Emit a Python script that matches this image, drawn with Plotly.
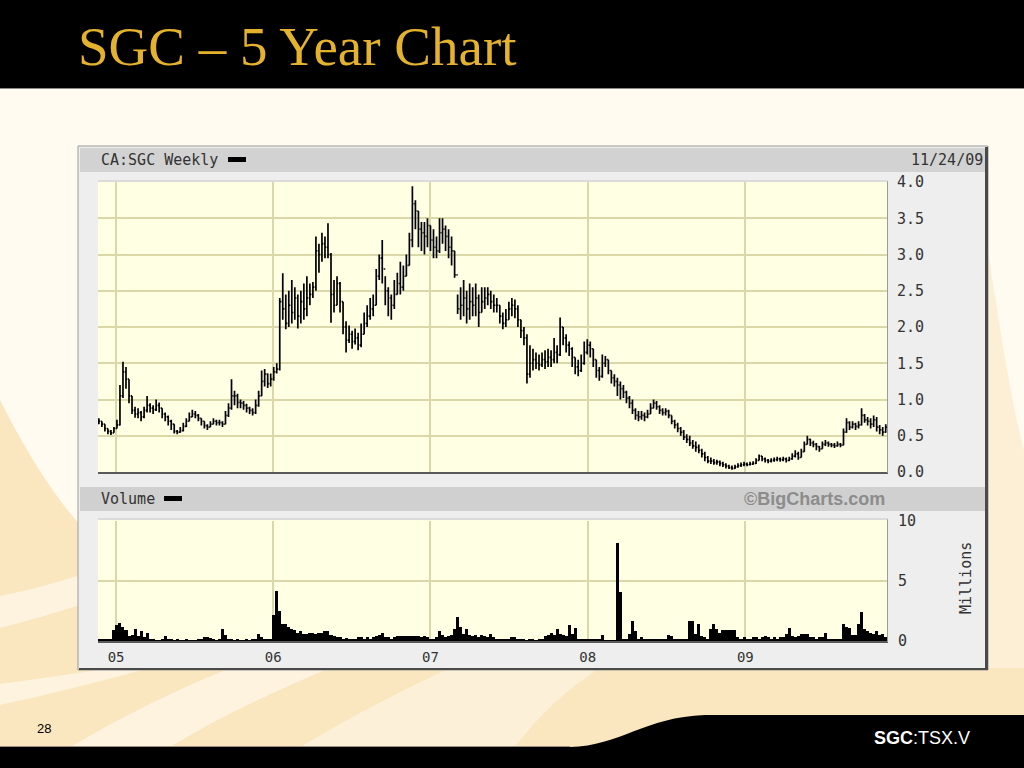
import plotly.graph_objects as go
import pandas as pd

W, H = 1024, 768

# ---------------- data ----------------
FIRST_WEEK = "2004-11-22"

week_high = [
    0.74, 0.70, 0.66, 0.60, 0.58, 0.62, 0.72, 1.20, 1.52, 1.45,
    1.28, 1.05, 0.90, 0.88, 0.84, 0.90, 1.05, 0.95, 0.92, 1.00,
    0.96, 0.88, 0.82, 0.78, 0.72, 0.66, 0.58, 0.62, 0.68, 0.74,
    0.82, 0.86, 0.84, 0.80, 0.74, 0.70, 0.66, 0.70, 0.74, 0.72,
    0.72, 0.70, 0.84, 0.95, 1.28, 1.12, 1.08, 1.00, 0.98, 0.94,
    0.90, 0.88, 1.00, 1.12, 1.40, 1.42, 1.36, 1.36, 1.45, 1.50,
    2.40, 2.74, 2.45, 2.50, 2.65, 2.55, 2.45, 2.50, 2.60, 2.70,
    2.60, 2.62, 3.25, 3.15, 3.30, 3.25, 3.43, 3.02, 2.65, 2.70,
    2.62, 2.35, 2.08, 2.02, 1.95, 1.98, 1.92, 2.05, 2.20, 2.30,
    2.40, 2.45, 2.80, 3.00, 3.20, 2.70, 2.55, 2.45, 2.65, 2.75,
    2.90, 2.85, 3.00, 3.30, 3.94, 3.75, 3.60, 3.45, 3.45, 3.50,
    3.40, 3.35, 3.25, 3.50, 3.50, 3.40, 3.35, 3.25, 3.05, 2.45,
    2.55, 2.65, 2.50, 2.60, 2.55, 2.60, 2.45, 2.55, 2.55, 2.55,
    2.50, 2.45, 2.40, 2.30, 2.20, 2.25, 2.35, 2.40, 2.38, 2.30,
    2.10, 2.00, 1.90, 1.75, 1.70, 1.65, 1.62, 1.65, 1.68, 1.70,
    1.68, 1.85, 1.75, 2.13, 2.00, 1.90, 1.80, 1.72, 1.58, 1.55,
    1.62, 1.80, 1.83, 1.80, 1.70, 1.55, 1.45, 1.62, 1.60, 1.55,
    1.40, 1.35, 1.30, 1.25, 1.20, 1.12, 1.05, 1.00, 0.88, 0.84,
    0.84, 0.82, 0.86, 0.95, 1.00, 0.98, 0.92, 0.88, 0.88, 0.86,
    0.78, 0.72, 0.68, 0.62, 0.58, 0.52, 0.50, 0.44, 0.42, 0.38,
    0.32, 0.28, 0.22, 0.20, 0.18, 0.17, 0.16, 0.14, 0.12, 0.10,
    0.09, 0.10, 0.12, 0.13, 0.14, 0.13, 0.14, 0.15, 0.19, 0.24,
    0.22, 0.20, 0.18, 0.19, 0.20, 0.21, 0.20, 0.21, 0.20, 0.21,
    0.26, 0.30, 0.28, 0.32, 0.42, 0.50, 0.46, 0.43, 0.40, 0.36,
    0.42, 0.44, 0.42, 0.40, 0.40, 0.42, 0.40, 0.60, 0.74, 0.70,
    0.70, 0.68, 0.70, 0.88, 0.80, 0.76, 0.74, 0.78, 0.76, 0.65,
    0.62, 0.66,
]

week_low = [
    0.66, 0.62, 0.56, 0.52, 0.51, 0.54, 0.60, 0.64, 1.02, 1.15,
    0.95, 0.80, 0.75, 0.74, 0.70, 0.74, 0.82, 0.82, 0.80, 0.84,
    0.82, 0.74, 0.70, 0.64, 0.58, 0.53, 0.52, 0.54, 0.56, 0.62,
    0.70, 0.76, 0.74, 0.70, 0.64, 0.60, 0.58, 0.62, 0.66, 0.64,
    0.64, 0.62, 0.66, 0.76, 0.86, 0.92, 0.88, 0.88, 0.86, 0.82,
    0.80, 0.78, 0.80, 0.90, 1.05, 1.18, 1.16, 1.18, 1.26, 1.36,
    1.40, 2.10, 1.97, 2.00, 2.05, 2.10, 1.98, 2.05, 2.10, 2.15,
    2.30, 2.40, 2.50, 2.75, 2.90, 2.95, 2.95, 2.06, 2.20, 2.30,
    2.20, 1.90, 1.65, 1.78, 1.70, 1.76, 1.68, 1.72, 1.90, 2.00,
    2.10, 2.15, 2.30, 2.65, 2.60, 2.30, 2.15, 2.10, 2.25, 2.45,
    2.45, 2.50, 2.70, 2.85, 3.10, 3.35, 3.10, 3.05, 3.00, 3.10,
    3.05, 2.95, 2.95, 3.02, 3.15, 3.05, 2.95, 2.85, 2.68, 2.18,
    2.10, 2.15, 2.05, 2.10, 2.15, 2.15, 2.00, 2.20, 2.25, 2.30,
    2.25, 2.20, 2.20, 2.05, 1.97, 2.00, 2.10, 2.15, 2.12, 2.00,
    1.85, 1.75, 1.22, 1.30, 1.40, 1.42, 1.40, 1.45, 1.42, 1.45,
    1.45, 1.50, 1.50, 1.60, 1.75, 1.65, 1.60, 1.45, 1.35, 1.32,
    1.38, 1.48, 1.62, 1.58, 1.45, 1.30, 1.26, 1.30, 1.45, 1.35,
    1.22, 1.18, 1.05, 1.00, 1.02, 0.95, 0.88, 0.80, 0.72, 0.70,
    0.72, 0.70, 0.74, 0.80, 0.88, 0.86, 0.80, 0.78, 0.78, 0.74,
    0.66, 0.60, 0.55, 0.50, 0.44, 0.40, 0.36, 0.32, 0.28, 0.26,
    0.20, 0.15, 0.12, 0.11, 0.10, 0.10, 0.08, 0.07, 0.05, 0.04,
    0.03, 0.04, 0.06, 0.07, 0.08, 0.08, 0.09, 0.10, 0.11, 0.16,
    0.15, 0.13, 0.12, 0.13, 0.14, 0.15, 0.14, 0.15, 0.13, 0.15,
    0.17, 0.20, 0.17, 0.20, 0.28, 0.38, 0.36, 0.34, 0.30, 0.28,
    0.32, 0.36, 0.35, 0.34, 0.33, 0.35, 0.34, 0.37, 0.54, 0.58,
    0.60, 0.58, 0.60, 0.64, 0.68, 0.64, 0.60, 0.62, 0.56, 0.52,
    0.50, 0.54,
]

week_close = [
    0.70, 0.66, 0.60, 0.56, 0.54, 0.60, 0.65, 1.05, 1.38, 1.28,
    1.05, 0.85, 0.80, 0.82, 0.76, 0.85, 0.92, 0.88, 0.86, 0.92,
    0.88, 0.80, 0.76, 0.70, 0.66, 0.56, 0.55, 0.57, 0.63, 0.70,
    0.76, 0.80, 0.78, 0.74, 0.70, 0.64, 0.62, 0.66, 0.70, 0.68,
    0.68, 0.66, 0.78, 0.88, 1.05, 1.05, 0.96, 0.95, 0.92, 0.88,
    0.85, 0.82, 0.92, 1.05, 1.25, 1.35, 1.22, 1.28, 1.38, 1.42,
    2.35, 2.25, 2.05, 2.30, 2.20, 2.40, 2.15, 2.35, 2.25, 2.40,
    2.45, 2.55, 3.05, 3.00, 3.15, 3.10, 3.00, 2.45, 2.30, 2.60,
    2.35, 2.00, 1.82, 1.90, 1.80, 1.85, 1.75, 1.90, 2.05, 2.15,
    2.25, 2.30, 2.70, 2.95, 2.80, 2.50, 2.40, 2.30, 2.45, 2.60,
    2.55, 2.70, 2.85, 3.20, 3.70, 3.60, 3.35, 3.30, 3.25, 3.40,
    3.20, 3.10, 3.05, 3.30, 3.35, 3.25, 3.10, 3.05, 2.72, 2.25,
    2.30, 2.40, 2.25, 2.35, 2.30, 2.40, 2.20, 2.35, 2.40, 2.45,
    2.35, 2.30, 2.30, 2.15, 2.05, 2.10, 2.25, 2.30, 2.25, 2.10,
    1.95, 1.85, 1.35, 1.50, 1.55, 1.50, 1.48, 1.55, 1.52, 1.58,
    1.55, 1.65, 1.62, 2.00, 1.85, 1.75, 1.70, 1.58, 1.45, 1.40,
    1.50, 1.65, 1.75, 1.70, 1.55, 1.40, 1.32, 1.50, 1.55, 1.40,
    1.30, 1.25, 1.20, 1.15, 1.10, 1.02, 0.95, 0.85, 0.78, 0.76,
    0.78, 0.76, 0.80, 0.88, 0.95, 0.90, 0.85, 0.82, 0.84, 0.78,
    0.70, 0.65, 0.60, 0.55, 0.48, 0.45, 0.40, 0.36, 0.34, 0.30,
    0.25, 0.20, 0.15, 0.15, 0.13, 0.14, 0.12, 0.10, 0.08, 0.06,
    0.05, 0.07, 0.09, 0.10, 0.11, 0.10, 0.11, 0.12, 0.16, 0.22,
    0.18, 0.16, 0.15, 0.16, 0.17, 0.18, 0.17, 0.18, 0.16, 0.18,
    0.22, 0.25, 0.20, 0.28, 0.38, 0.45, 0.40, 0.38, 0.35, 0.32,
    0.38, 0.40, 0.38, 0.37, 0.36, 0.38, 0.37, 0.55, 0.68, 0.62,
    0.66, 0.63, 0.65, 0.78, 0.72, 0.70, 0.66, 0.72, 0.62, 0.58,
    0.55, 0.62,
]

week_volume_m = [
    0.15, 0.10, 0.15, 0.10, 0.20, 0.90, 1.30, 1.50, 1.20, 0.90,
    0.40, 0.50, 1.00, 0.40, 0.80, 0.30, 0.70, 0.20, 0.10, 0.05,
    0.05, 0.10, 0.40, 0.15, 0.10, 0.05, 0.20, 0.05, 0.05, 0.10,
    0.05, 0.05, 0.05, 0.10, 0.10, 0.30, 0.30, 0.25, 0.10, 0.05,
    0.10, 1.00, 0.50, 0.20, 0.10, 0.05, 0.10, 0.05, 0.05, 0.10,
    0.05, 0.10, 0.10, 0.55, 0.30, 0.10, 0.10, 0.20, 2.20, 4.20,
    2.50, 1.40, 1.40, 1.20, 1.00, 0.90, 0.70, 0.80, 0.60, 0.55,
    0.70, 0.70, 0.60, 0.70, 0.70, 0.80, 0.80, 0.50, 0.40, 0.30,
    0.30, 0.20, 0.25, 0.20, 0.20, 0.20, 0.30, 0.30, 0.20, 0.30,
    0.20, 0.30, 0.40, 0.50, 0.70, 0.30, 0.30, 0.20, 0.30, 0.40,
    0.40, 0.40, 0.45, 0.40, 0.40, 0.40, 0.40, 0.35, 0.40, 0.30,
    0.20, 0.20, 0.30, 0.80, 0.50, 0.30, 0.40, 0.50, 1.00, 2.00,
    1.20, 0.60, 1.00, 0.50, 0.40, 0.50, 0.30, 0.50, 0.40, 0.30,
    0.55, 0.30, 0.20, 0.15, 0.20, 0.15, 0.20, 0.30, 0.30, 0.20,
    0.10, 0.10, 0.05, 0.10, 0.10, 0.05, 0.10, 0.10, 0.40, 0.50,
    0.70, 0.50, 1.00, 0.60, 0.50, 0.40, 1.30, 0.60, 1.10, 0.20,
    0.10, 0.15, 0.10, 0.10, 0.10, 0.10, 0.10, 0.50, 0.05, 0.05,
    0.05, 0.05, 8.20, 4.10, 0.10, 0.10, 0.55, 1.70, 0.80, 0.20,
    0.30, 0.10, 0.15, 0.10, 0.10, 0.15, 0.10, 0.10, 0.15, 0.50,
    0.40, 0.10, 0.15, 0.10, 0.10, 0.15, 1.70, 1.70, 0.60, 1.45,
    0.40, 0.30, 0.20, 1.00, 1.45, 1.00, 0.70, 0.90, 0.90, 0.90,
    0.90, 0.90, 0.30, 0.20, 0.30, 0.20, 0.20, 0.30, 0.30, 0.20,
    0.30, 0.40, 0.30, 0.20, 0.30, 0.20, 0.30, 0.30, 0.55, 1.10,
    0.40, 0.30, 0.40, 0.60, 0.60, 0.60, 0.30, 0.30, 0.20, 0.30,
    0.30, 0.70, 0.20, 0.20, 0.10, 0.20, 0.20, 1.40, 1.20, 1.10,
    0.50, 0.50, 1.40, 2.40, 1.00, 0.80, 0.70, 0.60, 0.80, 0.50,
    0.60, 0.30,
]

year_tick_dates = ["2005-01-01", "2006-01-01", "2007-01-01", "2008-01-01", "2009-01-01"]
year_tick_labels = ["05", "06", "07", "08", "09"]
price_ticks = [0.0, 0.5, 1.0, 1.5, 2.0, 2.5, 3.0, 3.5, 4.0]
volume_ticks = [0, 5, 10]
x_range = ["2004-11-20", "2009-11-26"]

n = len(week_close)
assert len(week_high) == n and len(week_low) == n and len(week_volume_m) == n
weeks = pd.date_range(FIRST_WEEK, periods=n, freq="7D")
week_open = [week_close[0]] + week_close[:-1]

# ---------------- helpers (pixel -> paper) ----------------
def px(x):
    return x / W

def py(y):
    return 1 - y / H

def rect(x0, y0, x1, y1, fill, line=None, lw=0, layer="below"):
    d = dict(type="rect", xref="paper", yref="paper",
             x0=px(x0), x1=px(x1), y0=py(y1), y1=py(y0),
             fillcolor=fill, layer=layer, line=dict(width=lw))
    if line:
        d["line"]["color"] = line
    return d

def hline(x0, x1, y, color, w, layer="above"):
    return dict(type="line", xref="paper", yref="paper", x0=px(x0), x1=px(x1),
                y0=py(y), y1=py(y), line=dict(color=color, width=w), layer=layer)

def vline(x, y0, y1, color, w, layer="above"):
    return dict(type="line", xref="paper", yref="paper", x0=px(x), x1=px(x),
                y0=py(y0), y1=py(y1), line=dict(color=color, width=w), layer=layer)

def path(cmds, fill, layer="below"):
    # each command carries exactly the points it needs (one segment per command)
    s = []
    for c, pts in cmds:
        s.append(c + " " + " ".join(f"{px(a):.5f},{py(b):.5f}" for a, b in pts))
    return dict(type="path", xref="paper", yref="paper", path=" ".join(s) + " Z",
                fillcolor=fill, line=dict(width=0), layer=layer)

# ---------------- traces ----------------
fig = go.Figure()
fig.add_trace(go.Ohlc(
    x=weeks, open=week_open, high=week_high, low=week_low, close=week_close,
    xaxis="x", yaxis="y",
    increasing=dict(line=dict(color="#000000", width=1.7)),
    decreasing=dict(line=dict(color="#000000", width=1.7)),
    tickwidth=0.4, hoverinfo="skip", showlegend=False,
))
fig.add_trace(go.Bar(
    x=weeks, y=week_volume_m, xaxis="x2", yaxis="y2",
    marker=dict(color="#000000", line=dict(width=0)),
    hoverinfo="skip", showlegend=False,
))

GRID = "#DAD8A8"
MONO = "DejaVu Sans Mono"
PLOT_X = [px(98), px(887)]
TAN = "#FAE6BF"
LIGHT = "#FDF3DE"

shapes = []
# slide background decoration (soft tan swooshes)
shapes.append(path([("M", [(0, 400)]), ("Q", [(40, 480), (80, 525)]), ("L", [(80, 747)]),
                    ("L", [(0, 747)])], TAN))
shapes.append(rect(0, 668, 1024, 747, TAN))
shapes.append(path([("M", [(0, 596)]), ("Q", [(40, 588), (80, 575)]), ("L", [(80, 605)]),
                    ("Q", [(40, 618), (0, 628)])], LIGHT))
shapes.append(path([("M", [(0, 684)]), ("Q", [(60, 676), (110, 668)]), ("L", [(150, 668)]),
                    ("Q", [(70, 690), (0, 705)])], LIGHT))
shapes.append(path([("M", [(70, 747)]), ("Q", [(150, 700), (230, 668)]), ("L", [(330, 668)]),
                    ("Q", [(230, 710), (170, 747)])], LIGHT))
shapes.append(path([("M", [(300, 747)]), ("Q", [(380, 700), (450, 668)]), ("L", [(600, 668)]),
                    ("Q", [(550, 700), (515, 747)])], "#FCF0D9"))
shapes.append(path([("M", [(988, 250)]), ("Q", [(1010, 400), (1024, 450)]), ("L", [(1024, 668)]),
                    ("L", [(988, 668)])], "#FCEFD6"))
# header / footer bands
shapes.append(rect(0, 0, 1024, 88, "#000000"))
shapes.append(hline(0, 1024, 88.5, "#8A8A8A", 1, layer="below"))
shapes.append(path([("M", [(0, 747)]), ("L", [(570, 747)]),
                    ("C", [(620, 746), (645, 717), (705, 715)]),
                    ("L", [(1024, 715)]), ("L", [(1024, 768)]), ("L", [(0, 768)])], "#000000"))
shapes.append(hline(0, 570, 746.5, "#9A8F80", 1, layer="below"))
# chart panel
shapes.append(rect(78, 146, 988, 670, "#EEEEEE", "#9A9A9A", 1))
shapes.append(rect(80, 148, 985, 172, "#D2D2D2"))
shapes.append(rect(80, 487, 985, 511, "#D0D0D0"))
shapes.append(rect(98, 182, 887, 472, "#FFFFE4"))
shapes.append(rect(98, 520, 887, 642, "#FFFFE4"))
# panel shadow edges
shapes.append(vline(986.5, 147, 670, "#4A4A4A", 3))
shapes.append(hline(79, 988, 669, "#4A4A4A", 2))
# plot frames
shapes.append(hline(98, 888, 473, "#5A5A5A", 2))
shapes.append(vline(887.5, 181, 473, "#9A9A9A", 1))
shapes.append(hline(98, 888, 181, "#C8C8C8", 1))
shapes.append(hline(98, 888, 642, "#5A5A5A", 2))
shapes.append(vline(887.5, 519, 642, "#9A9A9A", 1))
shapes.append(hline(98, 888, 519, "#C8C8C8", 1))
# legend swatches
shapes.append(rect(228, 157, 246, 162, "#000000", layer="above"))
shapes.append(rect(164, 496, 182, 501, "#000000", layer="above"))

ann = []
def text(x, y, t, size, color, family, xanchor="left", angle=0, yanchor="middle"):
    ann.append(dict(xref="paper", yref="paper", x=px(x), y=py(y), text=t, showarrow=False,
                    xanchor=xanchor, yanchor=yanchor, textangle=angle,
                    font=dict(size=size, color=color, family=family)))

text(76, 47, "SGC – 5 Year Chart", 55, "#E4B22C", "Liberation Serif, Times New Roman, serif")
text(99, 160, "CA:SGC Weekly", 15, "#333333", MONO)
text(985, 160, "11/24/09", 15, "#333333", MONO, xanchor="right")
text(99, 499, "Volume", 15, "#333333", MONO)
text(887, 499, "<b>©BigCharts.com</b>", 18, "#8C8C8C", "Liberation Sans, Arial, sans-serif", xanchor="right")
text(966, 578, "Millions", 15, "#333333", MONO, xanchor="center", angle=-90)
text(44, 728, "28", 13, "#000000", "Liberation Sans, Arial, sans-serif", xanchor="center")
text(972, 738, "<b>SGC</b>:TSX.V", 18, "#FFFFFF", "Liberation Sans, Arial, sans-serif", xanchor="right")

axis_common = dict(showgrid=True, gridcolor=GRID, gridwidth=2, zeroline=False,
                   showline=False, ticks="", fixedrange=True, automargin=False)

fig.update_layout(
    width=W, height=H, autosize=False,
    margin=dict(l=0, r=0, t=0, b=0, pad=0),
    paper_bgcolor="#FFFBF1", plot_bgcolor="rgba(0,0,0,0)",
    showlegend=False, bargap=0,
    shapes=shapes, annotations=ann,
    xaxis=dict(domain=PLOT_X, anchor="y", type="date", range=x_range,
               tickmode="array", tickvals=year_tick_dates, ticktext=year_tick_labels,
               showticklabels=False, rangeslider=dict(visible=False), **axis_common),
    yaxis=dict(domain=[py(472), py(182)], anchor="x", side="right", range=[0, 4],
               tickmode="array", tickvals=price_ticks,
               ticktext=[f"{v:.1f}" for v in price_ticks],
               tickfont=dict(family=MONO, size=15, color="#333333"),
               ticklabelstandoff=9, **axis_common),
    xaxis2=dict(domain=PLOT_X, anchor="y2", type="date", matches="x",
                tickmode="array", tickvals=year_tick_dates, ticktext=year_tick_labels,
                tickfont=dict(family=MONO, size=14, color="#333333"),
                ticklabelstandoff=6, **axis_common),
    yaxis2=dict(domain=[py(641), py(521)], anchor="x2", side="right", range=[0, 10],
                tickmode="array", tickvals=volume_ticks,
                tickfont=dict(family=MONO, size=15, color="#333333"),
                ticklabelstandoff=10, **axis_common),
)

fig.write_html("out.html", config={"displayModeBar": False},
               post_script="document.body.style.margin='0px';document.body.style.overflow='hidden';")
